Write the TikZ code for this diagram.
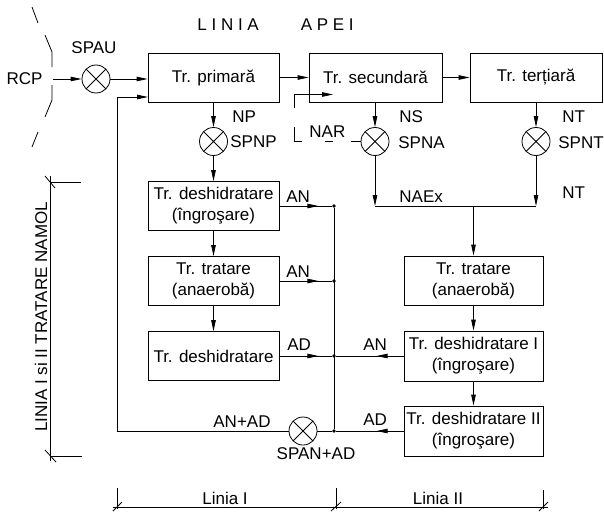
\documentclass[tikz,border=0pt]{standalone}
\usepackage{fontspec}
\setmainfont{Liberation Sans}
\usetikzlibrary{arrows.meta,decorations.markings,calc}
\begin{document}
\begin{tikzpicture}[x=1pt,y=-1pt,line width=0.8pt,
  font=\fontsize{17}{21}\selectfont,
  box/.style={draw, rectangle, inner sep=0pt, minimum height=49pt, align=center},
  summ/.style={draw, circle, inner sep=0pt, minimum size=28pt,
    path picture={\draw (path picture bounding box.north west) -- (path picture bounding box.south east)
                        (path picture bounding box.south west) -- (path picture bounding box.north east);}},
  arr/.style={-{Triangle[length=11pt,width=4.5pt]}},
  midarr/.style={postaction={decorate,decoration={markings,
      mark=at position #1 with {\arrow{Triangle[length=11pt,width=4.5pt]}}}}},
  lbl/.style={inner sep=0pt, anchor=west},
  jdot/.style={circle, fill, inner sep=0pt, minimum size=3.6pt}
]
\useasboundingbox (0,0) rectangle (604,511);

% title
\node[lbl] (title) at (197,25) {L I N I A\hspace{42pt}A P E I};

% boxes
\node[box, minimum width=131pt] (prim) at (213.5,77.5) {Tr. primară};
\node[box, minimum width=133pt] (sec) at (375.5,77.5) {Tr. secundară};
\node[box, minimum width=132pt] (ter) at (536,77.5) {Tr. terțiară};
\node[box, minimum width=131pt] (d1) at (213.5,206) {Tr. deshidratare\\(îngroşare)};
\node[box, minimum width=131pt] (t1) at (213.5,281) {Tr. tratare\\(anaerobă)};
\node[box, minimum width=131pt] (d1b) at (213.5,356) {Tr. deshidratare};
\node[box, minimum width=139pt] (t2) at (473.5,280.5) {Tr. tratare\\(anaerobă)};
\node[box, minimum width=139pt, minimum height=50pt] (dI) at (473.5,356) {Tr. deshidratare I\\(îngroşare)};
\node[box, minimum width=139pt, minimum height=50pt] (dII) at (473.5,431) {Tr. deshidratare II\\(îngroşare)};

% summing circles
\node[summ] (spau) at (96,79) {};
\node[summ] (spnp) at (213.5,141.5) {};
\node[summ] (spna) at (375,141.5) {};
\node[summ] (spnt) at (536,141.5) {};
\node[summ] (span) at (303,431) {};

% junctions
\node[jdot] (j1) at (334,206) {};
\node[jdot] (j2) at (334,281) {};
\node[jdot] (j3) at (334,356) {};
\node[jdot] (j4) at (334,431) {};

\coordinate (rcpin) at (53,79);
\coordinate (naexL) at (375,206);
\coordinate (naexR) at (536,206);
\coordinate (fb) at (117,431);
\coordinate (pin) at (148,97);

% labels
\node (rcp) at (24.5,79) {RCP};
\node (lspau) at (94,48) {SPAU};
\node[lbl] (lnp) at (232,117) {NP};
\node[lbl] (lspnp) at (230,142) {SPNP};
\node[lbl] (lns) at (399,117) {NS};
\node[lbl] (lspna) at (398,143) {SPNA};
\node[lbl] (lnt) at (562,117) {NT};
\node[lbl] (lspnt) at (558,143) {SPNT};
\node[lbl] (lnt2) at (562,193) {NT};
\node[lbl] (lnar) at (309,132) {NAR};
\node[lbl] (lnaex) at (399,197) {NAEx};
\node[lbl] (lan1) at (286,197) {AN};
\node[lbl] (lan2) at (286,272) {AN};
\node[lbl] (lad1) at (287,345) {AD};
\node[lbl] (lan3) at (363,345) {AN};
\node[lbl] (lad2) at (363,420) {AD};
\node[lbl] (lanad) at (213,422) {AN+AD};
\node (lspan) at (316,454) {SPAN+AD};
\node (linia1) at (225,498) {Linia I};
\node (linia2) at (438,498) {Linia II};
\node[rotate=90] (lnamol) at (41,317) {LINIA I si II TRATARE NAMOL};

% top bracket
\draw (32,7) -- (38,23);
\draw (45,35) -- (52,52) -- (52,67);
\draw (52,85) -- (52,100) -- (45,117);
\draw (38,132) -- (32,147);

% water line
\draw[arr] (rcpin) -- (spau.west);
\draw[arr] (spau.east) -- (spau.east -| prim.west);
\draw[arr] (prim.east) -- (sec.west);
\draw[arr] (sec.east) -- (ter.west);
\draw[arr] (prim.south) -- (spnp.north);
\draw[arr] (spnp.south) -- (d1.north);
\draw[arr] (d1.south) -- (t1.north);
\draw[arr] (t1.south) -- (d1b.north);
\draw[arr] (sec.south -| spna) -- (spna.north);
\draw[arr] (ter.south) -- (spnt.north);
\draw[arr] (spna.south) -- (naexL);
\draw[arr] (spnt.south) -- (naexR);
\draw (naexL) -- (naexR);
\draw[arr] (naexL -| t2.north) -- (t2.north);
\draw[arr] (t2.south) -- (dI.north);
\draw[arr] (dI.south) -- (dII.north);

% NAR return
\draw (spna.west) -- ++(-10,0);
\draw (325,141.5) -- (333,141.5);
\draw (302,141.5) -- (294,141.5) -- (294,127);
\draw[arr] (294,108) -- (294,94.5) -- (333,94.5);

% sludge collector
\draw[midarr=39pt] (d1.east) -- (j1);
\draw[midarr=39pt] (t1.east) -- (j2);
\draw[midarr=39pt] (d1b.east) -- (j3);
\draw[midarr=27pt] (dI.west) -- (j3);
\draw[midarr=27pt] (dII.west) -- (j4);
\draw (j1) -- (j4);
\draw (j4) -- (span.east);
\draw[arr] (span.west) -- (fb) |- (pin);

% left dimension
\draw (50,176) -- (50,461);
\draw (50,182) -- (81,182);
\draw (50,456) -- (82,456);
\draw (45,176) -- (55,188);
\draw (45,450) -- (56,462);

% bottom dimension
\draw (113,507) -- (548,507);
\draw (117,488) -- (117,509);
\draw (336,488) -- (336,509);
\draw (543,490) -- (543,509);
\draw (113,511) -- (122,502);
\draw (331,511) -- (341,502);
\draw (539,511) -- (548,502);
\end{tikzpicture}
\end{document}
